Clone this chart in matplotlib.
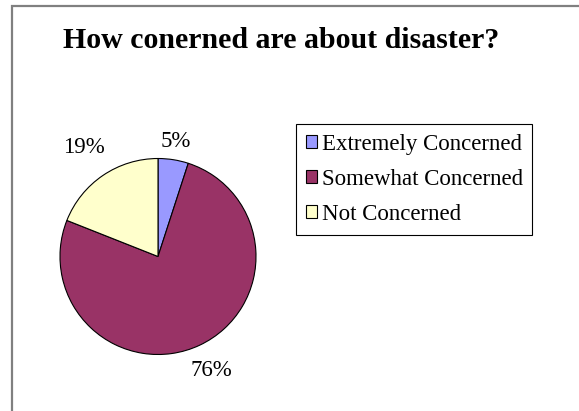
import matplotlib.pyplot as plt
import numpy as np
from matplotlib.patches import Rectangle

categories = ["Extremely Concerned", "Somewhat Concerned", "Not Concerned"]
shares = [5, 76, 19]
colors = ["#9999FF", "#993366", "#FFFFCC"]
title = "How conerned are about disaster?"

W, H = 579, 411
fig = plt.figure(figsize=(W / 100, H / 100), dpi=100)
plt.rcParams["font.family"] = ["Liberation Serif", "DejaVu Serif"]

# chart area outline (grey frame running off the right and bottom)
fig.patches.append(Rectangle((12 / W, -0.1), 1.2, (H - 6) / H + 0.1,
                             transform=fig.transFigure, fill=False,
                             edgecolor="#808080", linewidth=1.6))

cx, cy, r = 158, 256.5, 98
ax = fig.add_axes([(cx - r) / W, (H - cy - r) / H, 2 * r / W, 2 * r / H])
wedges, _, pct_texts = ax.pie(
    shares,
    colors=colors,
    startangle=90,
    counterclock=False,
    autopct="%1.0f%%",
    wedgeprops={"edgecolor": "black", "linewidth": 0.8},
    textprops={"fontsize": 16.5},
)
ax.set_xlim(-1, 1)
ax.set_ylim(-1, 1)
ax.set_aspect("equal")

# move the percentage labels outside the pie
label_radius = [1.19, 1.28, 1.35]
for w, t, rad in zip(wedges, pct_texts, label_radius):
    mid = np.deg2rad((w.theta1 + w.theta2) / 2)
    t.set_position((rad * np.cos(mid), rad * np.sin(mid)))
    t.set_ha("center")
    t.set_va("center")
    t.set_clip_on(False)

fig.text(281 / W, 1 - 40 / H, title, ha="center", va="center",
         fontsize=21.5, fontweight="bold")

leg = fig.legend(wedges, categories, loc="upper left",
                 bbox_to_anchor=(296 / W, 1 - 124 / H),
                 fontsize=16.5, frameon=True, fancybox=False,
                 edgecolor="black", framealpha=1, borderpad=0.42,
                 handlelength=0.5, handleheight=0.5, handletextpad=0.2,
                 labelspacing=0.62, borderaxespad=0)
leg.get_frame().set_linewidth(0.8)
for h in leg.legend_handles:
    h.set_linewidth(0.8)

fig.savefig("out.png", dpi=100)
